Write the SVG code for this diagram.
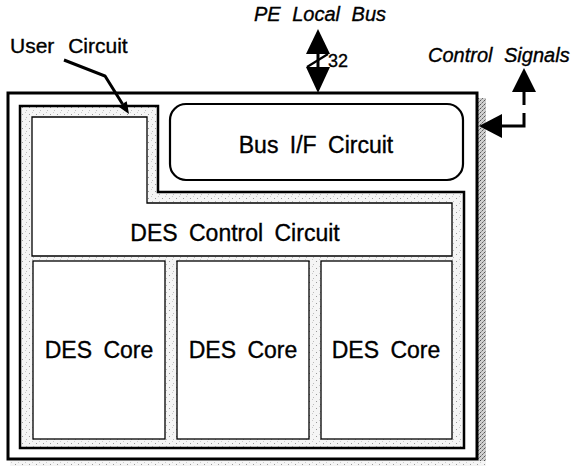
<svg xmlns="http://www.w3.org/2000/svg" width="576" height="466" viewBox="0 0 576 466">
<style>
.lbl{font-family:"Liberation Sans",Arial,sans-serif;fill:#000;stroke:#000;stroke-width:0.35}
.it{font-style:italic;font-size:20px}
.box{font-size:23px;text-anchor:middle;word-spacing:5px}
.thick{fill:none;stroke:#000;stroke-width:3}
.mid{stroke:#000;stroke-width:2.5}
.thin{fill:#fff;stroke:#000;stroke-width:1.3}
.conn{fill:none;stroke:#000;stroke-width:3}
</style>
<defs>
<pattern id="speck" width="7" height="7" patternUnits="userSpaceOnUse">
<rect width="7" height="7" fill="#f5f5f5"/>
<rect x="1" y="2" width="1" height="1" fill="#999"/>
<rect x="5" y="5" width="1" height="1" fill="#bbb"/>
<rect x="4" y="0" width="1" height="1" fill="#ccc"/>
</pattern>
<pattern id="shade" width="4" height="4" patternUnits="userSpaceOnUse">
<rect width="4" height="4" fill="#d0d0d0"/>
<rect x="0" y="0" width="1" height="1" fill="#555"/>
<rect x="2" y="2" width="1" height="1" fill="#666"/>
<rect x="3" y="1" width="1" height="1" fill="#888"/>
<rect x="1" y="3" width="1" height="1" fill="#999"/>
</pattern>
</defs>
<rect width="576" height="466" fill="#fff"/>
<rect x="478" y="98" width="8" height="368" fill="url(#shade)"/>
<rect x="10" y="461" width="476" height="5" fill="url(#speck)"/>

<g id="chip">
<rect x="8" y="93" width="469" height="366" class="thick"/>
</g>
<g id="user-circuit">
<path d="M20 106 H158 V192 H464 V448 H20 Z" fill="url(#speck)" class="mid"/>
</g>
<g id="bus-if">
<rect x="170" y="104" width="293" height="76" rx="16" fill="#fff" stroke="#000" stroke-width="2.2"/>
<text x="316" y="153" class="lbl box">Bus I/F Circuit</text>
</g>
<g id="des-control">
<path d="M32 117 H147 V203 H452 V256 H32 Z" class="thin"/>
<text x="235" y="241" class="lbl box" word-spacing="9">DES Control Circuit</text>
</g>
<g id="des-core-1">
<rect x="33" y="261" width="132" height="178" class="thin"/>
<text x="99" y="358" class="lbl box">DES Core</text>
</g>
<g id="des-core-2">
<rect x="177" y="261" width="132" height="178" class="thin"/>
<text x="243" y="358" class="lbl box">DES Core</text>
</g>
<g id="des-core-3">
<rect x="321" y="261" width="131" height="178" class="thin"/>
<text x="386" y="358" class="lbl box">DES Core</text>
</g>

<g id="labels">
<text x="320" y="21" class="lbl it" text-anchor="middle" word-spacing="6">PE Local Bus</text>
<text x="10" y="53" class="lbl" font-size="21" word-spacing="8">User Circuit</text>
<text x="428" y="62" class="lbl it" font-size="21" word-spacing="6">Control Signals</text>
<text x="328" y="67" class="lbl" font-size="18">32</text>
</g>

<g id="connectors">
<line x1="318" y1="52" x2="318" y2="70" class="conn"/>
<polygon points="318,29 306,54 330,54"/>
<polygon points="318,93 306,67 330,67"/>
<line x1="307" y1="67" x2="328" y2="54" stroke="#000" stroke-width="2.2"/>
<polyline points="64,60 105,76 122.5,104" class="conn" stroke-width="2.5"/>
<polygon points="129,114 118.3,106.6 126.7,101.2"/>
<path d="M501 126 H524 V92" class="conn" stroke-width="4" stroke-dasharray="36 8 20"/>
<polygon points="479,126 502,114 502,138"/>
<polygon points="524,68 512,92 536,92"/>
</g>
</svg>
